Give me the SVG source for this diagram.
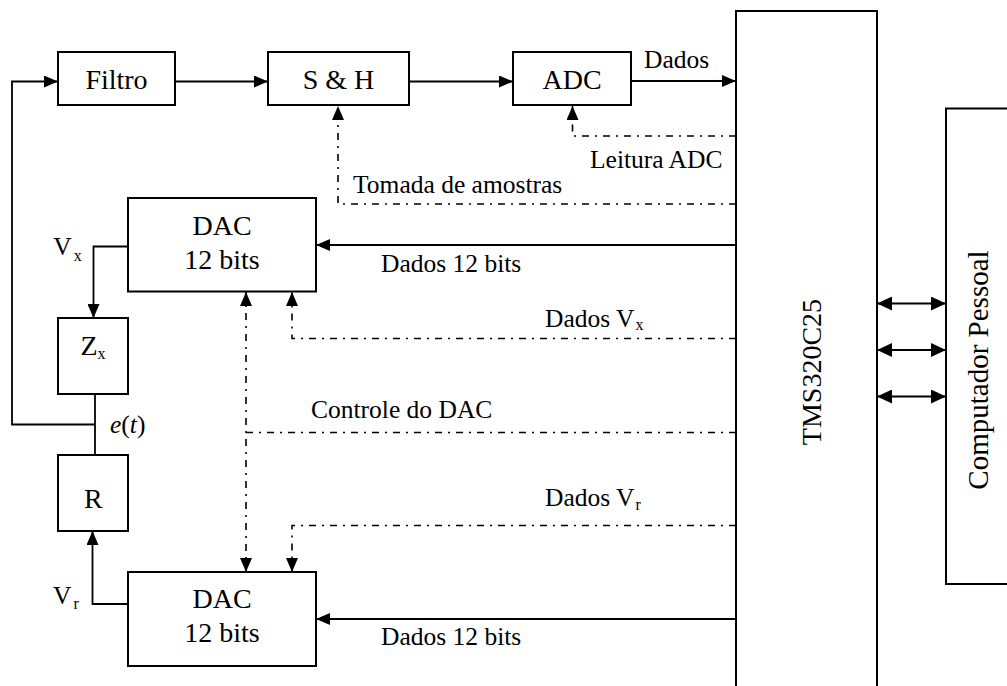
<svg xmlns="http://www.w3.org/2000/svg" width="1007" height="686" viewBox="0 0 1007 686">
<style>
  .box { fill: #fff; stroke: #000; stroke-width: 2; }
  .ln { fill: none; stroke: #000; stroke-width: 1.8; }
  .dd { fill: none; stroke: #000; stroke-width: 1.6; stroke-dasharray: 7 6 2 6; }
  .big { font-family: "Liberation Serif", "Times New Roman", serif; font-size: 28px; fill: #000; }
  .lbl { font-family: "Liberation Serif", "Times New Roman", serif; font-size: 25.5px; fill: #000; }
  .sub { font-size: 16px; }
  .mid { text-anchor: middle; }
</style>
<defs>
  <marker id="ah" markerUnits="userSpaceOnUse" markerWidth="14" markerHeight="12" refX="14" refY="6" orient="auto-start-reverse" viewBox="0 0 14 12">
    <path d="M0,0 L14,6 L0,12 z" fill="#000"/>
  </marker>
  <marker id="ah2" markerUnits="userSpaceOnUse" markerWidth="15" markerHeight="14" refX="15" refY="7" orient="auto-start-reverse" viewBox="0 0 15 14">
    <path d="M0,0 L15,7 L0,14 z" fill="#000"/>
  </marker>
</defs>
<rect width="1007" height="686" fill="#fff"/>

<g id="connectors">
  <path class="ln" d="M95,394 V455"/>
  <path class="ln" d="M95,424.5 H12 V81.5 H58" marker-end="url(#ah)"/>
  <path class="ln" d="M175,81.5 H268" marker-end="url(#ah)"/>
  <path class="ln" d="M409,81.5 H513" marker-end="url(#ah)"/>
  <path class="ln" d="M631,81 H736" marker-end="url(#ah)"/>
  <path class="dd" d="M736,136 H572.5 V106" marker-end="url(#ah)"/>
  <path class="dd" d="M736,204 H338 V106" marker-end="url(#ah)"/>
  <path class="ln" d="M736,245 H316" marker-end="url(#ah)"/>
  <path class="ln" d="M128,246.5 H93.5 V318" marker-end="url(#ah)"/>
  <path class="dd" d="M736,338.5 H292 V292" marker-end="url(#ah)"/>
  <path class="dd" d="M736,432.5 H246"/>
  <path class="dd" d="M246,292 V572" marker-start="url(#ah)" marker-end="url(#ah)"/>
  <path class="dd" d="M736,525.5 H292 V572" marker-end="url(#ah)"/>
  <path class="ln" d="M736,619 H316" marker-end="url(#ah)"/>
  <path class="ln" d="M128,604 H92.5 V531" marker-end="url(#ah)"/>
  <path class="ln" d="M877,303.5 H946" marker-start="url(#ah2)" marker-end="url(#ah2)"/>
  <path class="ln" d="M877,350 H946" marker-start="url(#ah2)" marker-end="url(#ah2)"/>
  <path class="ln" d="M877,396.5 H946" marker-start="url(#ah2)" marker-end="url(#ah2)"/>
</g>

<g id="filtro">
  <rect class="box" x="58" y="52" width="117" height="53"/>
  <text class="big mid" x="116.5" y="88.5">Filtro</text>
</g>
<g id="sh">
  <rect class="box" x="268" y="52" width="141" height="53"/>
  <text class="big mid" x="338.5" y="88.5">S &amp; H</text>
</g>
<g id="adc">
  <rect class="box" x="513" y="52" width="118" height="53"/>
  <text class="big mid" x="572" y="88.5">ADC</text>
</g>
<g id="tms">
  <rect class="box" x="736" y="11" width="141" height="700"/>
  <text class="big mid" transform="translate(821,372) rotate(-90)">TMS320C25</text>
</g>
<g id="pc">
  <rect class="box" x="946" y="108.5" width="100" height="475.5"/>
  <text class="big mid" style="font-size:29px" transform="translate(988,370) rotate(-90)">Computador Pessoal</text>
</g>
<g id="dac1">
  <rect class="box" x="128" y="198" width="188" height="93.5"/>
  <text class="big mid" x="222" y="235">DAC</text>
  <text class="big mid" x="222" y="268.5">12 bits</text>
</g>
<g id="zx">
  <rect class="box" x="58" y="318" width="70" height="76"/>
  <text class="big" x="80.5" y="355">Z<tspan class="sub" dy="3.5">x</tspan></text>
</g>
<g id="r">
  <rect class="box" x="58" y="455" width="70" height="76"/>
  <text class="big mid" x="93.3" y="508">R</text>
</g>
<g id="dac2">
  <rect class="box" x="128" y="572" width="188" height="94"/>
  <text class="big mid" x="222" y="607.5">DAC</text>
  <text class="big mid" x="222" y="641.5">12 bits</text>
</g>

<g id="labels">
  <text class="lbl" x="644" y="68.3">Dados</text>
  <text class="lbl" x="590" y="168.3">Leitura ADC</text>
  <text class="lbl" x="353" y="193">Tomada de amostras</text>
  <text class="lbl" x="381" y="271.7">Dados 12 bits</text>
  <text class="lbl" x="53.3" y="255">V<tspan class="sub" dx="2" dy="5.7">x</tspan></text>
  <text class="lbl" x="545" y="326.5">Dados V<tspan class="sub" dx="1" dy="3.5">x</tspan></text>
  <text class="lbl" x="311" y="418.3">Controle do DAC</text>
  <text class="lbl" x="110" y="433.3"><tspan font-style="italic">e</tspan>(<tspan font-style="italic">t</tspan>)</text>
  <text class="lbl" x="545" y="506">Dados V<tspan class="sub" dx="1" dy="3.5">r</tspan></text>
  <text class="lbl" x="53" y="604">V<tspan class="sub" dx="2" dy="4.5">r</tspan></text>
  <text class="lbl" x="381" y="645">Dados 12 bits</text>
</g>
</svg>
